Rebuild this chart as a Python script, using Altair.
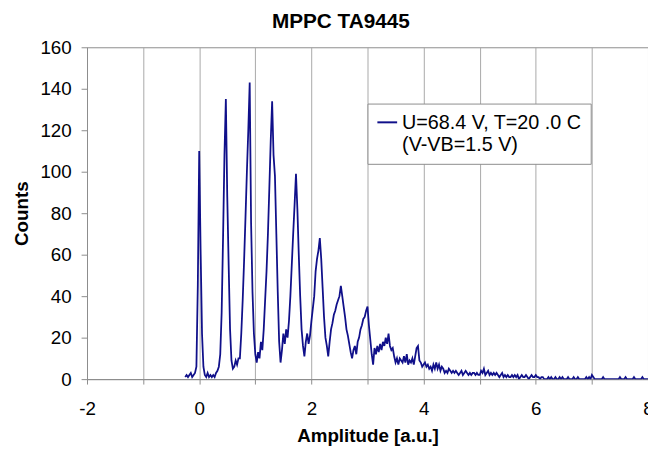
import altair as alt
import pandas as pd

# Amplitude bins (start and bin width) and counts
X_START = -0.25
X_STEP = 0.025
counts = [
    1, 2, 1, 2, 3, 1, 2, 3, 6, 45, 110, 62, 22, 6, 2, 1, 3, 1, 2, 1,
    2, 1, 3, 4, 6, 12, 32, 68, 108, 135, 88, 55, 24, 9, 5, 6, 9, 7, 10, 10,
    22, 38, 57, 78, 100, 120, 143, 75, 42, 22, 12, 8, 13, 10, 18, 14, 24, 38, 52, 70,
    92, 115, 134, 108, 98, 70, 42, 18, 8, 14, 22, 17, 24, 20, 28, 40, 55, 70, 84, 99,
    82, 60, 40, 24, 16, 11, 18, 22, 17, 21, 28, 34, 40, 52, 58, 62, 68, 58, 44, 30,
    20, 16, 11, 18, 24, 27, 31, 33, 36, 38, 40, 45, 40, 35, 30, 24, 21, 17, 13, 10,
    14, 16, 12, 18, 20, 24, 26, 29, 30, 33, 35, 26, 19, 12, 7, 15, 12, 16, 13, 17,
    14, 18, 16, 20, 17, 22, 16, 14, 15, 11, 8, 10, 7, 10, 9, 8, 11, 8, 12, 7,
    9, 8, 10, 7, 11, 15, 16, 9, 8, 6, 7, 8, 6, 7, 5, 6, 4, 7, 5, 8,
    5, 7, 4, 6, 5, 3, 4, 3, 5, 4, 3, 4, 3, 4, 3, 2, 3, 4, 2, 3,
    4, 3, 2, 3, 2, 3, 3, 2, 3, 2, 2, 4, 3, 5, 2, 3, 4, 2, 3, 2,
    3, 2, 3, 2, 1, 2, 3, 1, 2, 1, 2, 1, 1, 2, 1, 2, 1, 2, 0, 1,
    2, 1, 1, 2, 1, 0, 1, 2, 1, 1, 2, 1, 1, 0, 1, 1, 0, 0, 0, 1,
    0, 1, 0, 0, 1, 0, 0, 1, 0, 1, 0, 0, 0, 1, 0, 0, 0, 1, 0, 0,
    1, 0, 0, 0, 0, 0, 1, 0, 1, 0, 2, 1, 0, 0, 0, 0, 0, 0, 1, 0,
    0, 0, 0, 0, 0, 0, 0, 0, 0, 0, 1, 0, 0, 0, 1, 0, 0, 0, 0, 0,
    1, 0, 0, 0, 0, 0, 1, 0, 0, 0, 0,
]
amplitude = [round(X_START + i * X_STEP, 3) for i in range(len(counts))]

legend_lines = ["U=68.4 V, T=20 .0 C", "(V-VB=1.5 V)"]
x_ticks = [-2, -1, 0, 1, 2, 3, 4, 5, 6, 7, 8]
y_ticks = [0, 20, 40, 60, 80, 100, 120, 140, 160]

FONT = "Liberation Sans"
LINE_COLOR = "#10108a"
GRAY = "#8c8c8c"

df = pd.DataFrame({
    "Amplitude": amplitude,
    "Counts": counts,
    "series": "\n".join(legend_lines),
})

chart = alt.Chart(df).mark_line(strokeWidth=1.8, clip=True).encode(
    x=alt.X(
        "Amplitude:Q",
        scale=alt.Scale(domain=[-2, 8], nice=False, zero=False),
        axis=alt.Axis(
            title="Amplitude [a.u.]",
            values=x_ticks,
            labelExpr="datum.value % 2 == 0 ? '' + datum.value : ''",
            labelFlush=False,
            grid=True,
            gridColor="#a8a8a8",
            gridWidth=1,
            domainColor=GRAY,
            tickColor=GRAY,
            tickSize=5,
            labelPadding=16,
            titlePadding=8,
        ),
    ),
    y=alt.Y(
        "Counts:Q",
        scale=alt.Scale(domain=[0, 160], nice=False),
        axis=alt.Axis(
            title="Counts",
            values=y_ticks,
            grid=False,
            domainColor=GRAY,
            tickColor=GRAY,
            tickSize=6,
            labelPadding=10,
            titlePadding=9,
        ),
    ),
    color=alt.Color(
        "series:N",
        scale=alt.Scale(range=[LINE_COLOR]),
        legend=alt.Legend(
            title=None,
            orient="none",
            legendX=284,
            legendY=57,
            fillColor="white",
            strokeColor=GRAY,
            padding=9,
            symbolType="M-1,-0.1L1,-0.1",
            symbolSize=400,
            symbolStrokeWidth=2,
            labelFontSize=20,
            labelFont=FONT,
            labelColor="black",
            labelExpr="split(datum.label, '\\n')",
            labelLimit=400,
            labelOffset=4,
        ),
    ),
).properties(
    width=568,
    height=336,
    title=alt.TitleParams(
        "MPPC TA9445",
        fontSize=21,
        font=FONT,
        fontWeight="bold",
        color="black",
        offset=7,
        dx=-27,
    ),
    autosize=alt.AutoSizeParams(type="none"),
    padding={"left": 80, "top": 37, "right": 0, "bottom": 70},
).configure_axis(
    labelFont=FONT,
    labelFontSize=19,
    labelColor="black",
    titleFont=FONT,
    titleFontSize=19,
    titleFontWeight="bold",
    titleColor="black",
).configure_view(
    stroke=GRAY,
    strokeWidth=1,
)

chart.save("out.html", embed_options={"renderer": "svg", "actions": False})
